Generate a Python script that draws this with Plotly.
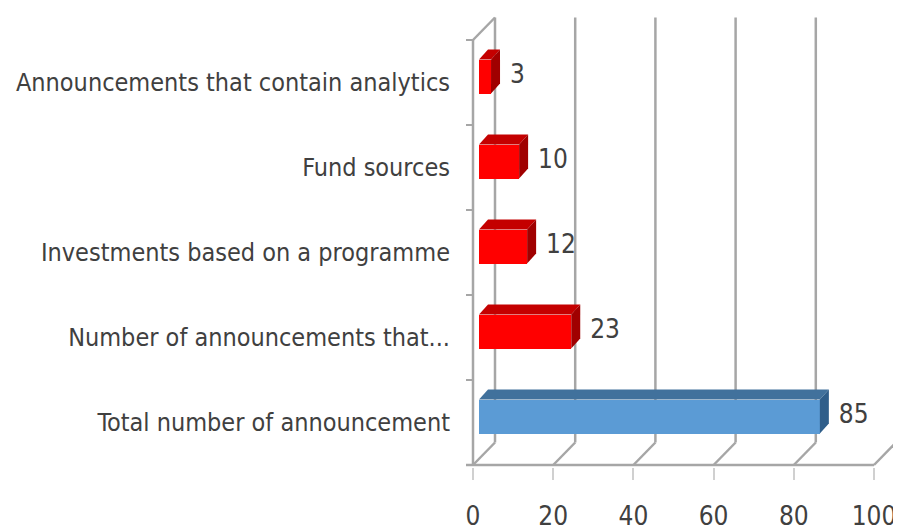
import plotly.graph_objects as go

# ---------------- data ----------------
categories = [
    "Total number of announcement",
    "Number of announcements that...",
    "Investments based on a programme",
    "Fund sources",
    "Announcements that contain analytics",
]
values = [85, 23, 12, 10, 3]
front_colors = ["#5B9BD5", "#FF0000", "#FF0000", "#FF0000", "#FF0000"]
top_colors = ["#41719C", "#C40000", "#C40000", "#C40000", "#C40000"]
side_colors = ["#2F5E8A", "#A00000", "#A00000", "#A00000", "#A00000"]
x_ticks = [0, 20, 40, 60, 80, 100]

# ---------------- geometry (pixel -> data unit helpers) ----------------
OFF = 8                      # page body margin of the browser
W, H = 901 - OFF, 531 - OFF
PX_X = 4.01      # pixels per x unit
PX_Y = 85.0      # pixels per category
X0_PX = 473 - OFF      # pixel of x = 0 on the front plane
Y0_PX = 422.5 - OFF    # pixel of category 0 centre on the front plane
PLOT_L, PLOT_R, PLOT_T, PLOT_B = 463 - OFF, W, 10 - OFF, 467 - OFF

x_range = [(PLOT_L - X0_PX) / PX_X, (PLOT_R - X0_PX) / PX_X]
y_range = [(Y0_PX - PLOT_B) / PX_Y, (Y0_PX - PLOT_T) / PX_Y]

BX, BY = 22 / PX_X, 22.5 / PX_Y          # back-wall offset
FX, FY = 6 / PX_X, 6 / PX_Y              # bar front-face offset
DX, DY = 9 / PX_X, 10 / PX_Y             # bar depth
BAR_W = 34 / PX_Y
FONT = "DejaVu Sans Condensed, Liberation Sans Narrow, sans-serif"
GRID = "#A6A6A6"
TXT = "#404040"

ypos = list(range(len(categories)))
fig = go.Figure()

# depth faces (top + right side) of each bar
for i, v in enumerate(values):
    x0, x1 = FX, FX + v
    yb = i + FY - BAR_W / 2
    yt = i + FY + BAR_W / 2
    fig.add_trace(go.Scatter(
        x=[x0, x1, x1 + DX, x0 + DX, x0],
        y=[yt, yt, yt + DY, yt + DY, yt],
        fill="toself", fillcolor=top_colors[i], mode="lines",
        line=dict(width=0), hoverinfo="skip", showlegend=False))
    fig.add_trace(go.Scatter(
        x=[x1, x1, x1 + DX, x1 + DX, x1],
        y=[yb, yt, yt + DY, yb + DY, yb],
        fill="toself", fillcolor=side_colors[i], mode="lines",
        line=dict(width=0), hoverinfo="skip", showlegend=False))

# front faces
fig.add_trace(go.Bar(
    x=values, y=[p + FY for p in ypos], base=FX, orientation="h",
    width=BAR_W, marker=dict(color=front_colors, line=dict(width=0)),
    showlegend=False, hoverinfo="x"))

# value labels
fig.add_trace(go.Scatter(
    x=[v + FX + 19 / PX_X for v in values], y=[p + FY for p in ypos],
    mode="text", text=[str(v) for v in values], textposition="middle right",
    textfont=dict(family=FONT, size=26, color=TXT),
    showlegend=False, hoverinfo="skip"))

# ---------------- walls / floor ----------------
shapes = []
def line(x0, y0, x1, y1, w=2.5, c=GRID):
    shapes.append(dict(type="line", xref="x", yref="y", x0=x0, y0=y0, x1=x1, y1=y1,
                       line=dict(color=c, width=w), layer="below"))

n = len(categories)
for t in x_ticks:
    line(t + BX, -0.5 + BY, t + BX, n - 0.5 + BY)       # back wall gridline
    line(t, -0.5, t + BX, -0.5 + BY)                     # floor diagonal
line(0, -0.5, 0, n - 0.5)                                # front left axis
line(0, n - 0.5, BX, n - 0.5 + BY)                       # top-left diagonal
line(-7 / PX_X, -0.5, x_ticks[-1], -0.5)                 # front floor line
for k in range(n + 1):
    line(-7 / PX_X, -0.5 + k, 0, -0.5 + k, w=2)          # left ticks

fig.update_layout(
    width=W, height=H,
    margin=dict(l=PLOT_L, r=W - PLOT_R, t=PLOT_T, b=H - PLOT_B, pad=0, autoexpand=False),
    paper_bgcolor="white", plot_bgcolor="white",
    shapes=shapes, bargap=0,
    xaxis=dict(range=x_range, tickvals=x_ticks, ticktext=[str(t) for t in x_ticks],
               showgrid=False, zeroline=False, showline=False, automargin=False,
               ticks="outside", ticklen=12, tickwidth=2, tickcolor="#D0D0D0",
               ticklabelstandoff=14,
               tickfont=dict(family=FONT, size=26, color=TXT)),
    yaxis=dict(range=y_range, tickvals=ypos, ticktext=categories,
               showgrid=False, zeroline=False, showline=False, ticks="",
               automargin=False, ticklabelstandoff=12,
               tickfont=dict(family=FONT, size=25, color=TXT)),
)

fig.write_html("out.html")
